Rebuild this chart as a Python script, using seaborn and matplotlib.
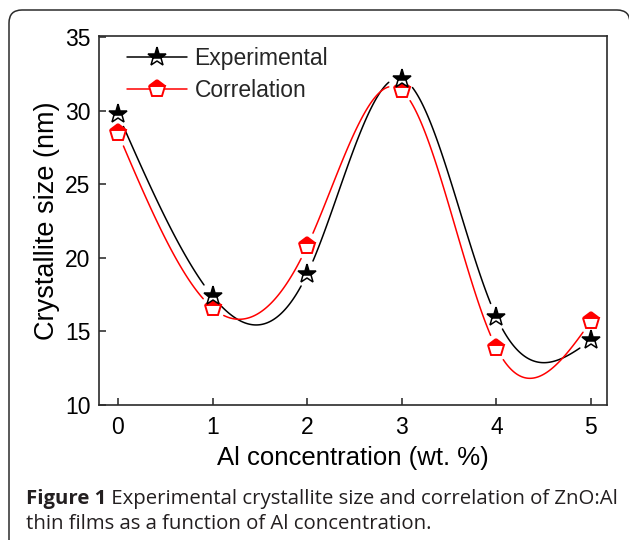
import numpy as np
import pandas as pd
import matplotlib
matplotlib.use("Agg")
import matplotlib.pyplot as plt
import seaborn as sns
from matplotlib.lines import Line2D
from matplotlib.patches import FancyBboxPatch

# Crystallite size of ZnO:Al films versus Al content
al_conc = [0, 1, 2, 3, 4, 5]
experimental = [29.8, 17.4, 18.9, 32.2, 16.0, 14.4]
correlation = [28.5, 16.6, 20.8, 31.4, 13.9, 15.7]

x_ticks = [0, 1, 2, 3, 4, 5]
y_ticks = [10, 15, 20, 25, 30, 35]

series_names = ["Experimental", "Correlation"]
x_label = "Al concentration (wt. %)"
y_label = "Crystallite size (nm)"
caption_bold = "Figure 1"
caption_rest = " Experimental crystallite size and correlation of ZnO:Al"
caption_line2 = "thin films as a function of Al concentration."


def natural_cubic_spline(x, y, xs):
    """Evaluate the natural cubic spline through (x, y) at xs."""
    x = np.asarray(x, float)
    y = np.asarray(y, float)
    n = len(x)
    h = np.diff(x)
    A = np.zeros((n, n))
    b = np.zeros(n)
    A[0, 0] = A[-1, -1] = 1.0
    for i in range(1, n - 1):
        A[i, i - 1] = h[i - 1]
        A[i, i] = 2 * (h[i - 1] + h[i])
        A[i, i + 1] = h[i]
        b[i] = 6 * ((y[i + 1] - y[i]) / h[i] - (y[i] - y[i - 1]) / h[i - 1])
    M = np.linalg.solve(A, b)
    idx = np.clip(np.searchsorted(x, xs) - 1, 0, n - 2)
    x0, x1, hh = x[idx], x[idx + 1], h[idx]
    t0 = x1 - xs
    t1 = xs - x0
    return ((M[idx] * t0 ** 3 + M[idx + 1] * t1 ** 3) / (6 * hh)
            + (y[idx] / hh - M[idx] * hh / 6) * t0
            + (y[idx + 1] / hh - M[idx + 1] * hh / 6) * t1)


sns.set_theme(style="white")
plt.rcParams["font.family"] = ["Liberation Sans", "DejaVu Sans"]

W, H = 629, 540
fig = plt.figure(figsize=(W / 100, H / 100), dpi=100)
fig.patch.set_facecolor("white")

# outer rounded frame of the figure panel
frame = FancyBboxPatch((9 / 100, -0.3), (W + 1 - 9) / 100, (H - 10) / 100 + 0.3,
                       boxstyle="round,pad=0,rounding_size=0.13",
                       transform=fig.dpi_scale_trans, facecolor="none",
                       edgecolor="#2b2b2b", linewidth=1.1, clip_on=False)
fig.patches.append(frame)

ax = fig.add_axes([99 / W, 1 - 405 / H, (607 - 99) / W, (405 - 36) / H])
ax.set_facecolor("white")
ax.set_xlim(-0.2, 5.17)
ax.set_ylim(10, 35.1)

xs = np.linspace(0, 5, 600)
gap_px = 13

for name, vals, color in [(series_names[0], experimental, "black"),
                          (series_names[1], correlation, "#ff0000")]:
    ys = natural_cubic_spline(al_conc, vals, xs)
    pts = ax.transData.transform(np.column_stack([xs, ys]))
    mk = ax.transData.transform(np.column_stack([al_conc, vals]))
    d = np.min(np.hypot(pts[:, None, 0] - mk[None, :, 0],
                        pts[:, None, 1] - mk[None, :, 1]), axis=1)
    keep = d > gap_px
    seg = np.cumsum(np.r_[True, np.diff(keep.astype(int)) != 0])
    df = pd.DataFrame({"x": xs, "y": ys, "seg": seg})[keep]
    sns.lineplot(data=df, x="x", y="y", units="seg", estimator=None,
                 color=color, linewidth=1.1, ax=ax, legend=False, sort=False)

ax.plot(al_conc, experimental, linestyle="none", marker="*", markersize=14,
        fillstyle="top", markerfacecolor="black", markerfacecoloralt="white",
        markeredgecolor="black", markeredgewidth=1.1, zorder=5)
ax.plot(al_conc, correlation, linestyle="none", marker="p", markersize=12.5,
        fillstyle="top", markerfacecolor="#ff0000", markerfacecoloralt="white",
        markeredgecolor="#ff0000", markeredgewidth=1.4, zorder=4)

ax.set_xticks(x_ticks)
ax.set_yticks(y_ticks)
ax.tick_params(axis="both", direction="in", length=5, width=1.1,
               color="#222222", labelsize=16.5, labelcolor="black")
ax.tick_params(axis="x", pad=8, bottom=True, top=False)
ax.tick_params(axis="y", pad=6, left=True, right=False)
for s in ax.spines.values():
    s.set_linewidth(1.2)
    s.set_color("#2b2b2b")

ax.set_xlabel(x_label, fontsize=18.5, labelpad=5, color="black")
ax.set_ylabel(y_label, fontsize=19.5, labelpad=4, color="black")

handles = [
    Line2D([], [], color="black", linewidth=1.1, marker="*", markersize=14,
           fillstyle="top", markerfacecolor="black", markerfacecoloralt="white",
           markeredgecolor="black", markeredgewidth=1.1),
    Line2D([], [], color="#ff0000", linewidth=1.1, marker="p", markersize=12.5,
           fillstyle="top", markerfacecolor="#ff0000", markerfacecoloralt="white",
           markeredgecolor="#ff0000", markeredgewidth=1.4),
]
ax.legend(handles, series_names, loc="upper left",
          bbox_to_anchor=((127 - 99) / 508, 1 - (47 - 36) / 369),
          frameon=False, fontsize=16.5, handlelength=2.6, handletextpad=0.35,
          labelspacing=0.38, borderaxespad=0, borderpad=0)

# caption below the plot
cap_font = ["Open Sans", "DejaVu Sans"]
cap_size = 14.7
t1 = fig.text(26 / W, 1 - 504 / H, caption_bold, fontsize=cap_size,
              fontweight="bold", family=cap_font, color="#231f20",
              ha="left", va="baseline")
fig.canvas.draw()
bb = t1.get_window_extent(fig.canvas.get_renderer())
fig.text(bb.x1 / W, 1 - 504 / H, caption_rest, fontsize=cap_size,
         family=cap_font, color="#231f20", ha="left", va="baseline")
fig.text(26 / W, 1 - 529 / H, caption_line2, fontsize=cap_size,
         family=cap_font, color="#231f20", ha="left", va="baseline")

fig.savefig("out.png", dpi=100, facecolor="white")
